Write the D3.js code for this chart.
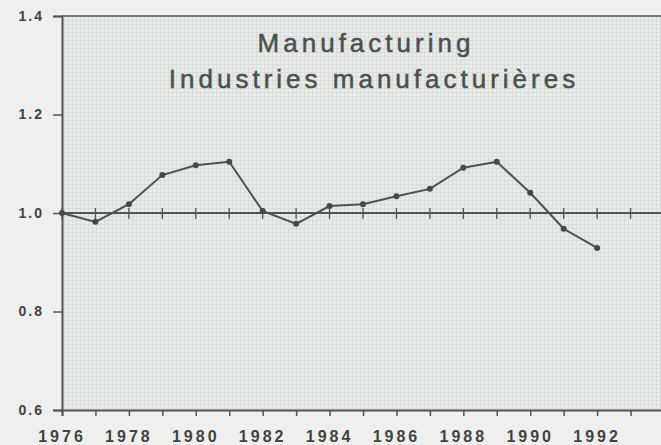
<!DOCTYPE html>
<html>
<head>
<meta charset="utf-8">
<script src="https://cdn.jsdelivr.net/npm/d3@7"></script>
<style>
body{margin:0;background:#efefee;}
svg{display:block;}
</style>
</head>
<body>
<div class="chart"></div>
<script>
// values
const years = [1976,1977,1978,1979,1980,1981,1982,1983,1984,1985,1986,1987,1988,1989,1990,1991,1992];
const ratio = [1.000,0.982,1.018,1.077,1.097,1.104,1.004,0.978,1.014,1.018,1.034,1.049,1.092,1.104,1.041,0.968,0.929];
const yTicks = [0.6,0.8,1.0,1.2,1.4];
const xLabels = [1976,1978,1980,1982,1984,1986,1988,1990,1992];
const titleLines = ['Manufacturing','Industries manufacturières'];

const width = 661;
const height = 445;
const margin = {top:16, right:-3, bottom:35, left:62};

const svg = d3.select('.chart')
    .append('svg')
    .attr('width', width)
    .attr('height', height)

const x = d3.scaleLinear()
    .domain([1976,1994])
    .range([margin.left, width - margin.right])

const y = d3.scaleLinear()
    .domain([0.6,1.4])
    .range([height - margin.bottom, margin.top])

// graph paper background
const defs = svg.append('defs')
const pat = defs.append('pattern')
    .attr('id','paper')
    .attr('width',4)
    .attr('height',4)
    .attr('patternUnits','userSpaceOnUse')
pat.append('rect').attr('width',4).attr('height',4).attr('fill','#e9ebea')
pat.append('path').attr('d','M0,0.5H4M0.5,0V4').attr('stroke','#dadedb').attr('stroke-width',1)

svg.append('rect')
    .attr('x', margin.left)
    .attr('y', margin.top)
    .attr('width', width - margin.left)
    .attr('height', y(0.6) - margin.top)
    .attr('fill','url(#paper)')

const axisColor = '#50574f';

// top border
svg.append('line')
    .attr('x1', margin.left).attr('x2', width)
    .attr('y1', y(1.4)).attr('y2', y(1.4))
    .attr('stroke', axisColor).attr('stroke-width',1.5)

// y axis
const yAxis = svg.append('g')
    .attr('transform','translate(' + margin.left + ',0)')
    .call(d3.axisLeft(y).tickValues(yTicks).tickSize(9).tickPadding(9).tickFormat(d3.format('.1f')))
yAxis.select('.domain').attr('stroke', axisColor).attr('stroke-width',2)
yAxis.selectAll('.tick line').attr('stroke', axisColor).attr('stroke-width',1.5)
yAxis.selectAll('text')
    .attr('fill','#3f443f')
    .attr('font-family','Liberation Sans, Arial, sans-serif')
    .attr('font-size',14)
    .attr('font-weight','bold')
    .attr('letter-spacing',2)

// x axis
const xAxis = svg.append('g')
    .attr('transform','translate(0,' + y(0.6) + ')')
    .call(d3.axisBottom(x).ticks(18).tickSize(6).tickFormat(''))
xAxis.select('.domain').attr('stroke', axisColor).attr('stroke-width',2)
xAxis.selectAll('.tick line').attr('stroke', axisColor).attr('stroke-width',1.5)

svg.selectAll('.xlab')
    .data(xLabels)
    .enter()
    .append('text')
    .attr('class','xlab')
    .text(d => d)
    .attr('x', d => x(d))
    .attr('y', y(0.6) + 32)
    .attr('text-anchor','middle')
    .attr('fill','#3f443f')
    .attr('font-family','Liberation Sans, Arial, sans-serif')
    .attr('font-size',16)
    .attr('font-weight','bold')
    .attr('letter-spacing',3)

// reference line at 1.0 with year crosses
svg.append('line')
    .attr('x1', margin.left).attr('x2', width)
    .attr('y1', y(1.0)).attr('y2', y(1.0))
    .attr('stroke', axisColor).attr('stroke-width',2)

svg.selectAll('.cross')
    .data(d3.range(1976,1995))
    .enter()
    .append('line')
    .attr('class','cross')
    .attr('x1', d => x(d)).attr('x2', d => x(d))
    .attr('y1', y(1.0) - 5).attr('y2', y(1.0) + 6)
    .attr('stroke', axisColor).attr('stroke-width',1.3)

// series
const pts = years.map((d,i) => ({year:d, value:ratio[i]}))

svg.append('path')
    .datum(pts)
    .attr('fill','none')
    .attr('stroke','#4a534b')
    .attr('stroke-width',2)
    .attr('d', d3.line().x(d => x(d.year)).y(d => y(d.value)))

svg.selectAll('.dot')
    .data(pts)
    .enter()
    .append('circle')
    .attr('class','dot')
    .attr('cx', d => x(d.year))
    .attr('cy', d => y(d.value))
    .attr('r',3)
    .attr('fill','#434b44')

// title
svg.selectAll('.title')
    .data(titleLines)
    .enter()
    .append('text')
    .attr('class','title')
    .text(d => d)
    .attr('x', (d,i) => i == 0 ? 366 : 374)
    .attr('y', (d,i) => 52 + i*36)
    .attr('text-anchor','middle')
    .attr('fill','#4b514b')
    .attr('stroke','#4b514b')
    .attr('stroke-width',0.5)
    .attr('font-family','Liberation Sans, Arial, sans-serif')
    .attr('font-size',26)
    .attr('letter-spacing',4)
</script>
</body>
</html>
